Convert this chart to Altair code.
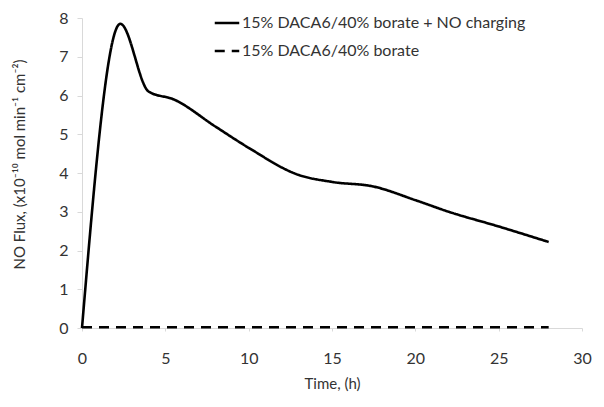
import altair as alt
import pandas as pd

series_a = "15% DACA6/40% borate + NO charging"
series_b = "15% DACA6/40% borate"

time_a = [0, 2.3, 4, 5.5, 8, 10, 13, 15, 17.5, 20, 22, 25, 28]
flux_a = [0, 7.85, 6.1, 5.9, 5.2, 4.65, 3.95, 3.77, 3.65, 3.3, 3.0, 2.62, 2.22]

time_b = [0, 2, 4, 6, 8, 10, 12, 14, 16, 18, 20, 22, 24, 26, 28]
flux_b = [0.02, 0.02, 0.02, 0.02, 0.02, 0.02, 0.02, 0.02, 0.02, 0.02, 0.02, 0.02, 0.02, 0.02, 0.02]

x_ticks = [0, 5, 10, 15, 20, 25, 30]
y_ticks = [0, 1, 2, 3, 4, 5, 6, 7, 8]

df = pd.concat([
    pd.DataFrame({"time": time_a, "flux": flux_a, "series": series_a}),
    pd.DataFrame({"time": time_b, "flux": flux_b, "series": series_b}),
])

FONT = "Lato"

chart = alt.Chart(df).mark_line(
    interpolate="monotone", color="black", strokeWidth=2.6
).encode(
    x=alt.X("time:Q", title="Time, (h)",
            scale=alt.Scale(domain=[0, 30], nice=False),
            axis=alt.Axis(values=x_ticks, grid=False, ticks=True, tickSize=3,
                          tickColor="#d9d9d9", labelFlush=False,
                          domainColor="#d9d9d9", labelPadding=19,
                          labelFontSize=16, titleFontSize=15,
                          titleFontWeight="normal", titlePadding=10,
                          labelColor="#333333", titleColor="#333333")),
    y=alt.Y("flux:Q", title="NO Flux, (x10⁻¹⁰ mol min⁻¹ cm⁻²)",
            scale=alt.Scale(domain=[0, 8], nice=False),
            axis=alt.Axis(values=y_ticks, grid=False, tickSize=5,
                          tickColor="#d9d9d9", domainColor="#d9d9d9",
                          labelPadding=9, labelFontSize=16, titleFontSize=15,
                          titleFontWeight="normal", titlePadding=31,
                          titleY=146,
                          labelColor="#333333", titleColor="#333333")),
    strokeDash=alt.StrokeDash("series:N",
        scale=alt.Scale(domain=[series_a, series_b], range=[[1, 0], [10, 7]]),
        legend=alt.Legend(title=None, orient="none", legendX=131, legendY=-9,
                          symbolType="stroke", symbolSize=600, symbolStrokeWidth=2.6,
                          symbolStrokeColor="black", labelFontSize=16,
                          labelColor="#333333", labelLimit=400, rowPadding=6,
                          labelOffset=1)),
).properties(
    width=500, height=310,
    autosize=alt.AutoSizeParams(type="none"),
    padding={"left": 74, "top": 10, "right": 14, "bottom": 71},
).configure(font=FONT).configure_view(stroke=None)

chart.save("out.html", embed_options={"renderer": "svg", "actions": False})
